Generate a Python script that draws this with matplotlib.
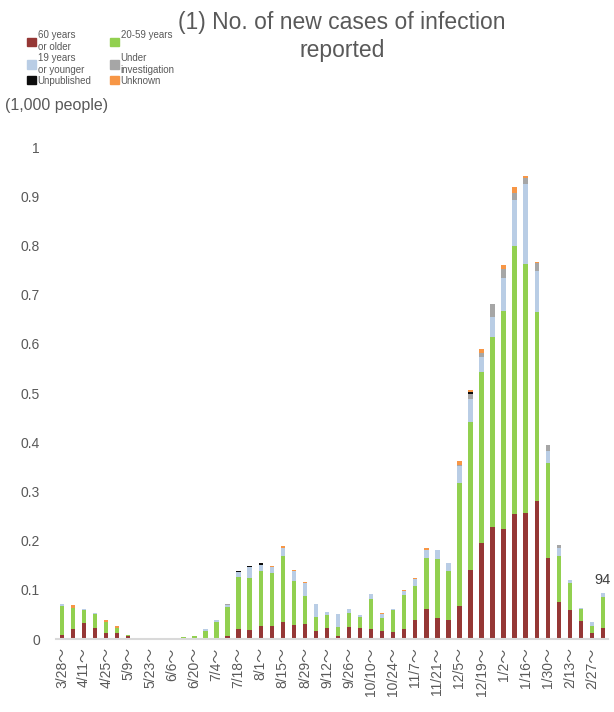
import numpy as np
import matplotlib
matplotlib.use("Agg")
import matplotlib.pyplot as plt
from matplotlib.patches import Patch

plt.rcParams['font.family'] = ['Liberation Sans', 'Noto Sans CJK JP', 'DejaVu Sans']

# weekly new cases, in 1,000 people (weeks starting 3/28 ... 3/6)
week_labels = ["3/28", "4/4", "4/11", "4/18", "4/25", "5/2", "5/9", "5/16", "5/23", "5/30",
               "6/6", "6/13", "6/20", "6/27", "7/4", "7/11", "7/18", "7/25", "8/1", "8/8",
               "8/15", "8/22", "8/29", "9/5", "9/12", "9/19", "9/26", "10/3", "10/10", "10/17",
               "10/24", "10/31", "11/7", "11/14", "11/21", "11/28", "12/5", "12/12", "12/19", "12/26",
               "1/2", "1/9", "1/16", "1/23", "1/30", "2/6", "2/13", "2/20", "2/27", "3/6"]

age_60_over = [0.008, 0.020, 0.033, 0.022, 0.012, 0.012, 0.006, 0, 0, 0,
               0, 0, 0, 0, 0, 0.006, 0.020, 0.019, 0.026, 0.026,
               0.034, 0.029, 0.030, 0.017, 0.022, 0.007, 0.024, 0.023, 0.020, 0.017,
               0.015, 0.021, 0.039, 0.062, 0.043, 0.039, 0.068, 0.140, 0.196, 0.228,
               0.224, 0.255, 0.257, 0.280, 0.165, 0.076, 0.058, 0.037, 0.013, 0.023]
age_20_59 = [0.060, 0.044, 0.027, 0.029, 0.023, 0.010, 0.003, 0, 0, 0,
             0, 0.004, 0.006, 0.017, 0.035, 0.060, 0.107, 0.105, 0.113, 0.108,
             0.135, 0.088, 0.057, 0.027, 0.026, 0.017, 0.029, 0.022, 0.061, 0.026,
             0.043, 0.068, 0.069, 0.103, 0.120, 0.100, 0.250, 0.302, 0.347, 0.386,
             0.443, 0.544, 0.505, 0.385, 0.193, 0.093, 0.056, 0.024, 0.014, 0.062]
age_19_under = [0.003, 0, 0.001, 0.001, 0, 0, 0, 0, 0, 0,
                0, 0, 0, 0.003, 0.003, 0.004, 0.009, 0.022, 0.012, 0.012,
                0.016, 0.021, 0.026, 0.028, 0.006, 0.026, 0.008, 0.004, 0.010, 0.007,
                0.003, 0.008, 0.015, 0.016, 0.018, 0.016, 0.034, 0.046, 0.030, 0.041,
                0.067, 0.093, 0.163, 0.083, 0.024, 0.017, 0.006, 0.002, 0.007, 0.009]
under_investigation = [0, 0, 0, 0, 0, 0, 0, 0, 0, 0,
                       0, 0, 0, 0, 0, 0.002, 0.001, 0, 0, 0,
                       0, 0, 0, 0, 0, 0, 0, 0, 0, 0,
                       0, 0, 0, 0, 0, 0, 0.002, 0.011, 0.009, 0.025,
                       0.018, 0.015, 0.013, 0.016, 0.012, 0.005, 0, 0, 0, 0]
unpublished = [0, 0, 0, 0, 0, 0, 0, 0, 0, 0,
               0, 0, 0, 0, 0, 0, 0.002, 0.003, 0.004, 0,
               0, 0, 0, 0, 0, 0, 0, 0, 0, 0,
               0, 0, 0, 0, 0, 0, 0, 0.003, 0, 0,
               0, 0, 0, 0, 0, 0, 0, 0, 0, 0]
unknown = [0, 0.005, 0, 0, 0.003, 0.004, 0, 0, 0, 0,
           0, 0, 0, 0, 0, 0, 0, 0, 0, 0.003,
           0.004, 0.003, 0.002, 0, 0, 0, 0, 0, 0, 0.003,
           0, 0.002, 0.002, 0.004, 0, 0, 0.008, 0.004, 0.007, 0.001,
           0.008, 0.011, 0.003, 0.002, 0, 0, 0, 0, 0, 0]
last_label = "94"

series = [
    ("60 years\nor older", age_60_over, "#953735"),
    ("20-59 years", age_20_59, "#92D050"),
    ("19 years\nor younger", age_19_under, "#B9CDE5"),
    ("Under\ninvestigation", under_investigation, "#A6A6A6"),
    ("Unpublished", unpublished, "#0D0D0D"),
    ("Unknown", unknown, "#F79646"),
]

text_color = "#595959"

fig = plt.figure(figsize=(6.14, 7.12), dpi=100)
ax = fig.add_axes([0.092, 0.1025, 0.899, 0.691])

x = np.arange(len(week_labels))
bottom = np.zeros(len(x))
for name, vals, col in series:
    vals = np.array(vals, dtype=float)
    ax.bar(x, vals, width=0.4, bottom=bottom, color=col, label=name)
    bottom += vals

ax.annotate(last_label, (x[-1], bottom[-1]), xytext=(0, 4), textcoords="offset points",
            ha="center", va="bottom", fontsize=10.5, color="#404040")

ax.set_xlim(-0.5, len(x) - 0.5)
ax.set_ylim(0, 1)
ax.set_yticks(np.arange(0, 1.01, 0.1))
ax.set_yticklabels(["0", "0.1", "0.2", "0.3", "0.4", "0.5", "0.6", "0.7", "0.8", "0.9", "1"])
ax.set_xticks(x[::2])
ax.set_xticklabels([w + "～" for w in week_labels[::2]], rotation=90)
ax.tick_params(axis="both", length=0, labelsize=10, colors=text_color)
ax.tick_params(axis="y", pad=12)
ax.tick_params(axis="x", pad=6)
for s in ["top", "right", "left"]:
    ax.spines[s].set_visible(False)
ax.spines["bottom"].set_color("#D9D9D9")
ax.spines["bottom"].set_linewidth(1.5)

fig.text(0.557, 0.985, "(1) No. of new cases of infection\nreported", ha="center", va="top",
         fontsize=16.5, color=text_color, linespacing=1.3)
fig.text(0.008, 0.852, "(1,000 people)", ha="left", va="center", fontsize=11.5, color=text_color)

handles = [Patch(color=c) for _, _, c in series]
order = [0, 2, 4, 1, 3, 5]
labels = [series[i][0] for i in order]
labels[3] = "20-59 years\n "
fig.legend([handles[i] for i in order], labels, ncol=2, loc="upper left",
           bbox_to_anchor=(0.036, 0.964), frameon=False, fontsize=7,
           labelcolor=text_color, handlelength=0.9, handleheight=0.9,
           handletextpad=0.2, columnspacing=1.9, labelspacing=0.1, borderpad=0)

fig.savefig("out.png", dpi=100)
